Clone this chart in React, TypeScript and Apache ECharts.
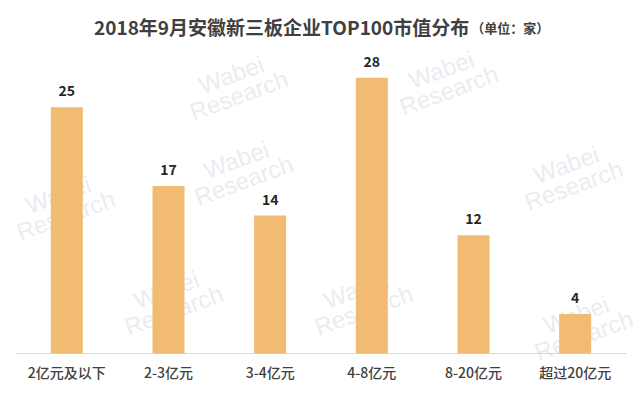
import React, { useEffect, useRef } from "react";
import * as echarts from "echarts";

const categories = ["2亿元及以下", "2-3亿元", "3-4亿元", "4-8亿元", "8-20亿元", "超过20亿元"];
const values = [25, 17, 14, 28, 12, 4];
const titleText = "2018年9月安徽新三板企业TOP100市值分布";
const unitText = "（单位：家）";
const watermarkText = "Wabei\nResearch";
const watermarkSpots = [
  [235, 85],
  [445, 80],
  [570, 175],
  [240, 170],
  [62, 205],
  [360, 300],
  [170, 300],
  [580, 325],
];

export default function App() {
  const ref = useRef<HTMLDivElement>(null);
  useEffect(() => {
    if (!ref.current) return;
    const chart = echarts.init(ref.current, null, { renderer: "svg" });
    chart.setOption({
      animation: false,
      backgroundColor: "#ffffff",
      title: {
        text: "{a|" + titleText + "}{b|" + unitText + "}",
        left: 89,
        top: 12,
        textStyle: {
          rich: {
            a: { fontSize: 19, fontWeight: "bold", color: "#404040", fontFamily: "Noto Sans CJK SC" },
            b: { fontSize: 13, fontWeight: "bold", color: "#404040", fontFamily: "Noto Sans CJK SC", padding: [2, 0, 0, 2] },
          },
        },
      },
      graphic: watermarkSpots.map(([x, y]) => ({
        type: "text",
        x,
        y,
        rotation: (20 * Math.PI) / 180,
        z: -10,
        silent: true,
        style: {
          text: watermarkText,
          fill: "#e9edf2",
          font: "24px Arial",
          align: "center",
          verticalAlign: "middle",
          lineHeight: 22,
        },
      })),
      grid: { left: 16, right: 14, top: 58, bottom: 45.5, containLabel: false },
      xAxis: {
        type: "category",
        data: categories,
        axisLine: { show: true, lineStyle: { color: "#d9d9d9", width: 1 } },
        axisTick: { show: false },
        axisLabel: {
          margin: 11,
          fontSize: 14,
          fontWeight: 500,
          color: "#404040",
          fontFamily: "Noto Sans CJK SC",
          interval: 0,
        },
      },
      yAxis: {
        type: "value",
        min: 0,
        max: 30,
        show: false,
        splitLine: { show: false },
      },
      series: [
        {
          type: "bar",
          data: values,
          barWidth: 32,
          z: 5,
          itemStyle: { color: "#F1BC72" },
          label: {
            show: true,
            position: "top",
            distance: 10,
            fontSize: 14,
            fontWeight: "bold",
            color: "#262626",
            fontFamily: "Noto Sans CJK SC",
          },
        },
      ],
    });
    return () => chart.dispose();
  }, []);
  return (
    <div
      ref={ref}
      style={{ position: "fixed", left: 0, top: 0, width: 640, height: 399 }}
    />
  );
}
